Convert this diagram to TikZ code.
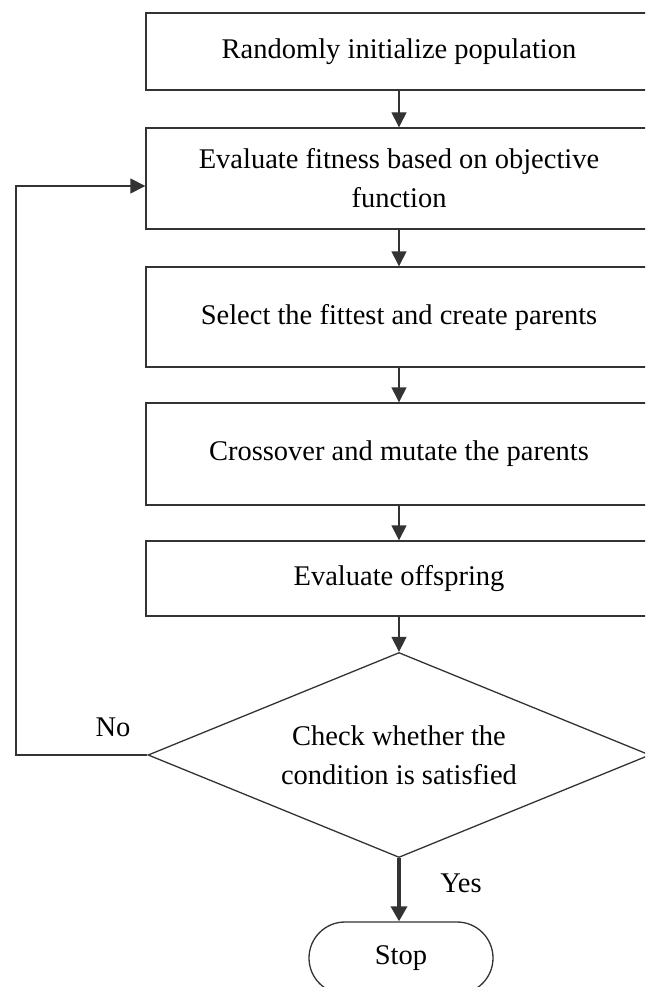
\documentclass[tikz,border=0pt]{standalone}
\usepackage{fontspec}
\setmainfont{Liberation Serif}
\usetikzlibrary{arrows.meta,shapes.geometric,shapes.misc}
\definecolor{linegray}{HTML}{333333}
\begin{document}
\begin{tikzpicture}[x=1pt,y=-1pt,
  every node/.style={font=\fontsize{28.5}{39}\selectfont, text=black},
  procbox/.style={draw=linegray, line width=1.4pt, rectangle, minimum width=506pt, align=center, inner sep=0pt},
  decbox/.style={draw=linegray, line width=1.3pt, diamond, aspect=2.45, minimum width=502pt, minimum height=205pt, inner sep=0pt, align=center},
  stopbox/.style={draw=linegray, line width=1.3pt, rounded rectangle, minimum width=184pt, minimum height=72pt, inner sep=0pt},
  flow/.style={draw=linegray, line width=1.4pt, -{Triangle[width=15pt,length=15pt]}},
  thickflow/.style={draw=linegray, line width=3.4pt, -{Triangle[width=16pt,length=15pt]}}]
\useasboundingbox (0,0) rectangle (645,987);
\clip (0,0) rectangle (645,987);

\node[procbox, minimum height=77pt]  (b1) at (399,51.5) {Randomly initialize population};
\node[procbox, minimum height=101pt] (b2) at (399,178.5) {Evaluate fitness based on objective\\function};
\node[procbox, minimum height=100pt] (b3) at (399,317) {Select the fittest and create parents};
\node[procbox, minimum height=102pt] (b4) at (399,454) {Crossover and mutate the parents};
\node[procbox, minimum height=75pt]  (b5) at (399,578.5) {Evaluate offspring};
\node[decbox] (dec) at (399,755) {Check whether the\\condition is satisfied};
\node[stopbox] (stop) at (401,958) {Stop};

\draw[flow] (b1) -- (b2);
\draw[flow] (b2) -- (b3);
\draw[flow] (b3) -- (b4);
\draw[flow] (b4) -- (b5);
\draw[flow] (b5) -- (dec);
\draw[thickflow] (dec.south) -- (stop.north -| dec.south);

\coordinate (lp) at (16,755);
\coordinate (lq) at (16,186);
\draw[flow] (dec.west) -- (lp) -- (lq) -- (lq -| b2.west);

\node (no) at (113,727) {No};
\node (yes) at (461,883) {Yes};
\end{tikzpicture}
\end{document}
